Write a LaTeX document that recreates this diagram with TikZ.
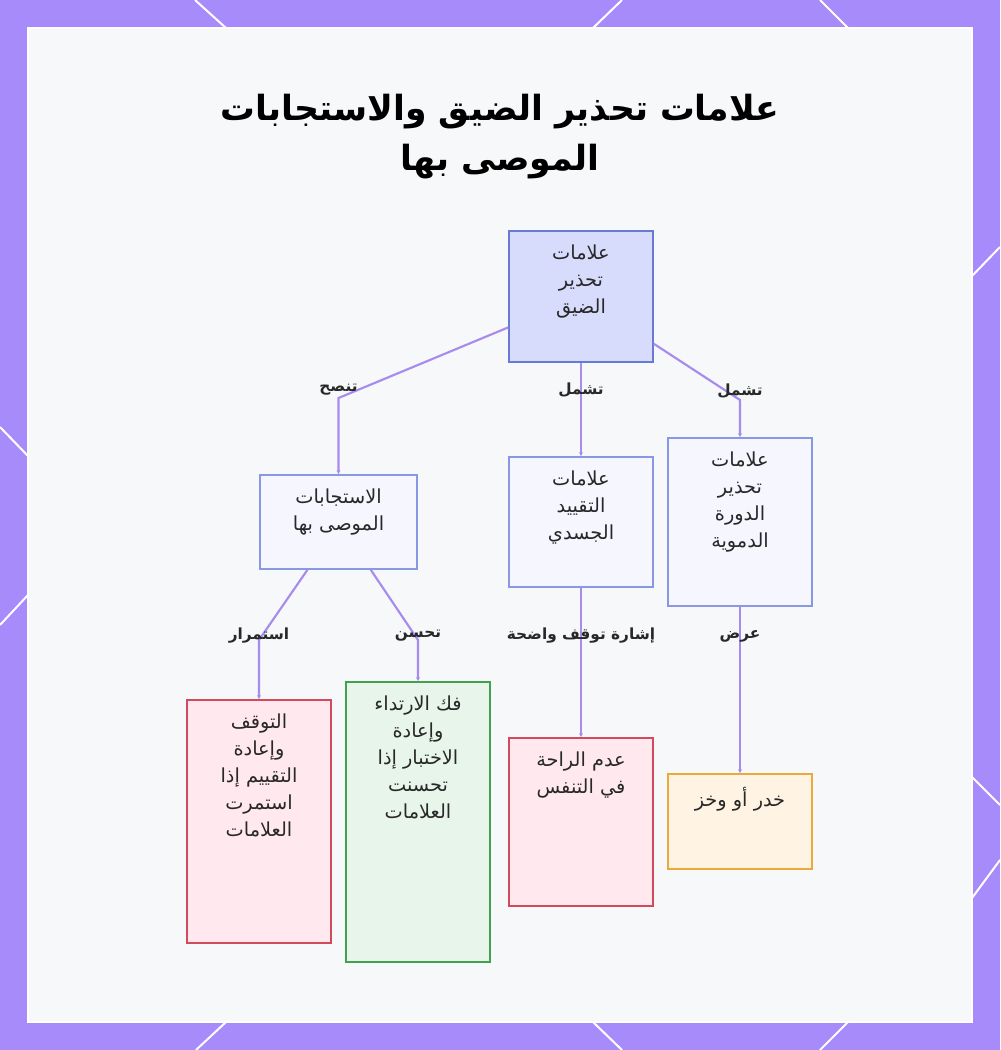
\documentclass[tikz,border=0pt]{standalone}
\usepackage{fontspec}
\usepackage{xcolor}
\usetikzlibrary{arrows.meta}
\TeXXeTstate=1
\newfontfamily\arabicfont[Script=Arabic]{DejaVu Sans}
\definecolor{wsframe}{RGB}{167,139,250}
\definecolor{wspanel}{RGB}{247,248,249}
\definecolor{wslink}{RGB}{167,139,238}
\definecolor{wsdark}{RGB}{40,40,40}
\definecolor{wsroot}{RGB}{216,220,252}
\definecolor{wsrootline}{RGB}{104,122,214}
\definecolor{wsblue}{RGB}{245,246,254}
\definecolor{wsblueline}{RGB}{136,152,228}
\definecolor{wsred}{RGB}{255,233,238}
\definecolor{wsredline}{RGB}{210,74,92}
\definecolor{wsgreen}{RGB}{232,245,234}
\definecolor{wsgreenline}{RGB}{63,163,77}
\definecolor{wsorange}{RGB}{255,244,227}
\definecolor{wsorangeline}{RGB}{234,170,59}
\newcommand{\ar}[1]{{\arabicfont\beginR #1\endR}}
\newcommand{\boxtxt}[3]{\parbox[c][#2][t]{#1}{\centering\vspace*{10pt}#3}}
\tikzset{
  card/.style={draw, line width=1.3pt, inner sep=0pt, text=wsdark,
    font=\fontsize{14.5}{20.25}\selectfont},
  rootcard/.style={card, fill=wsroot, draw=wsrootline},
  bluecard/.style={card, fill=wsblue, draw=wsblueline},
  redcard/.style={card, fill=wsred, draw=wsredline},
  greencard/.style={card, fill=wsgreen, draw=wsgreenline},
  orangecard/.style={card, fill=wsorange, draw=wsorangeline},
  link/.style={draw=wslink, line width=1.6pt, -{Stealth[length=3pt,width=3pt]}},
  lbl/.style={text=wsdark, font=\fontsize{11.5}{13}\selectfont\bfseries, inner sep=1pt}
}

\begin{document}
\begin{tikzpicture}[x=0.75pt, y=-0.75pt]
  \useasboundingbox (0,0) rectangle (1000,1050);
  % frame and panel
  \fill[wsframe] (0,0) rectangle (1000,1050);
  \draw[white, line width=1.5pt] (195,0) -- (226,28);
  \draw[white, line width=1.5pt] (622,0) -- (593,28);
  \draw[white, line width=1.5pt] (820,0) -- (848,28);
  \draw[white, line width=1.5pt] (226,1022) -- (196,1050);
  \draw[white, line width=1.5pt] (593,1022) -- (622,1050);
  \draw[white, line width=1.5pt] (848,1022) -- (820,1050);
  \draw[white, line width=1.5pt] (0,427) -- (28,456);
  \draw[white, line width=1.5pt] (28,595) -- (0,625);
  \draw[white, line width=1.5pt] (972,276) -- (1000,247);
  \draw[white, line width=1.5pt] (972,777) -- (1000,805);
  \draw[white, line width=1.5pt] (1000,860) -- (972,898);
  \fill[wspanel, draw=white, line width=1pt] (28,28) rectangle (972,1022);

  % title
  \node[text=black, align=center, font=\fontsize{26}{37.5}\selectfont\bfseries] (title) at (500,137)
    {\ar{علامات تحذير الضيق والاستجابات}\\\ar{الموصى بها}};

  % boxes
  \node[rootcard] (root) at (581,296.5) {\boxtxt{108pt}{98.25pt}{\ar{علامات}\\\ar{تحذير}\\\ar{الضيق}}};
  \node[bluecard] (advice) at (338.5,522) {\boxtxt{117.75pt}{70.5pt}{\ar{الاستجابات}\\\ar{الموصى بها}}};
  \node[bluecard] (physical) at (581,522) {\boxtxt{108pt}{97.5pt}{\ar{علامات}\\\ar{التقييد}\\\ar{الجسدي}}};
  \node[bluecard] (circ) at (740,522) {\boxtxt{108pt}{126pt}{\ar{علامات}\\\ar{تحذير}\\\ar{الدورة}\\\ar{الدموية}}};
  \node[redcard] (stop) at (259,821.5) {\boxtxt{108pt}{182.25pt}{\ar{التوقف}\\\ar{وإعادة}\\\ar{التقييم إذا}\\\ar{استمرت}\\\ar{العلامات}}};
  \node[greencard] (unbind) at (418,822) {\boxtxt{108pt}{210pt}{\ar{فك الارتداء}\\\ar{وإعادة}\\\ar{الاختبار إذا}\\\ar{تحسنت}\\\ar{العلامات}}};
  \node[redcard] (breath) at (581,822) {\boxtxt{108pt}{126pt}{\ar{عدم الراحة}\\\ar{في التنفس}}};
  \node[orangecard] (numb) at (740,821.5) {\boxtxt{108pt}{71.25pt}{\ar{خدر أو وخز}}};

  % links
  \draw[link] (root.203) -- (338.5,398) node[lbl, yshift=6pt] {\ar{تنصح}} -- (advice.north);
  \draw[link] (root.south) -- node[lbl, pos=0.29] {\ar{تشمل}} (physical.north);
  \draw[link] (root.327) -- (740,400) node[lbl, yshift=7pt] {\ar{تشمل}} -- (circ.north);
  \draw[link] (advice.237) -- (259,640) node[lbl, yshift=3pt] {\ar{استمرار}} -- (stop.north);
  \draw[link] (advice.304) -- (418,640) node[lbl, yshift=3pt] {\ar{تحسن}} -- (unbind.north);
  \draw[link] (physical.south) -- node[lbl, pos=0.32] {\ar{إشارة توقف واضحة}} (breath.north);
  \draw[link] (circ.south) -- node[lbl, pos=0.18] {\ar{عرض}} (numb.north);
\end{tikzpicture}
\end{document}
